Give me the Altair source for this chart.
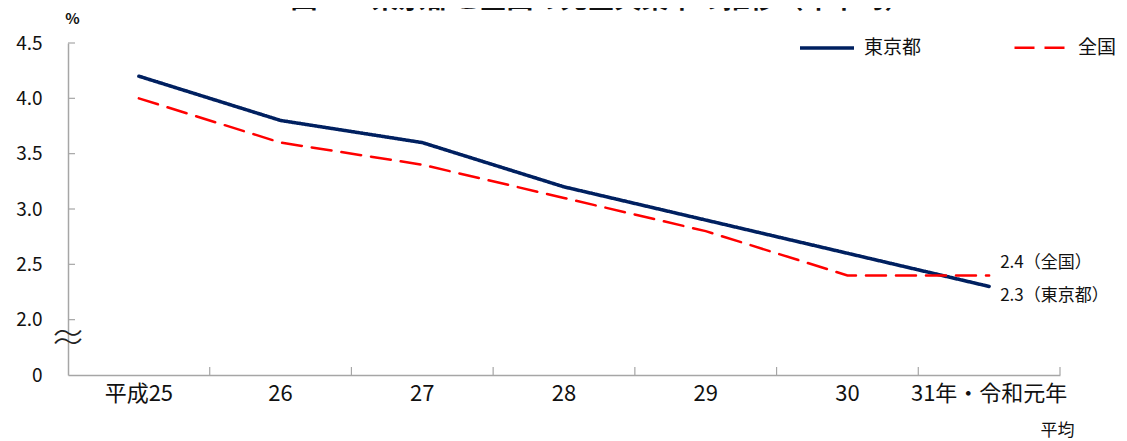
import altair as alt
import pandas as pd

years = ["平成25", "26", "27", "28", "29", "30", "31年・令和元年"]
tokyo = [4.2, 3.8, 3.6, 3.2, 2.9, 2.6, 2.3]
national = [4.0, 3.6, 3.4, 3.1, 2.8, 2.4, 2.4]
series_names = ["東京都", "全国"]
y_ticks = [2.0, 2.5, 3.0, 3.5, 4.0, 4.5]
title_text = "図２　東京都と全国の完全失業率の推移（年平均）"

FONT = "Noto Sans CJK JP"
AX = "#a6a6a6"
W, H = 992, 332

rows = []
for i, y in enumerate(years):
    rows.append({"year": y, "series": "東京都", "value": tokyo[i], "idx": i})
    rows.append({"year": y, "series": "全国", "value": national[i], "idx": i})
df = pd.DataFrame(rows)

xscale = alt.Scale(domain=years, paddingInner=0, paddingOuter=0)
yscale = alt.Scale(domain=[1.5, 4.5], nice=False, zero=False)

x_enc = alt.X("year:N", scale=xscale, sort=years,
              axis=alt.Axis(title="平均", labelAngle=0, labelFontSize=22, labelFont=FONT,
                            labelAlign="center", bandPosition=0.5,
                            labelColor="#111", labelPadding=18, ticks=False, tickSize=0,
                            domainColor=AX, domainWidth=1.5, labelOverlap=False,
                            titleFont=FONT, titleFontSize=17, titleFontWeight="normal",
                            titleX=989, titleY=55, titleAlign="center",
                            titleBaseline="middle", titleColor="#111"))
y_enc = alt.Y("value:Q", scale=yscale,
              axis=alt.Axis(values=[1.5] + y_ticks, title="%", titleAngle=0,
                            titleX=4, titleY=-25, titleAlign="center", titleBaseline="middle",
                            titleFont=FONT, titleFontSize=15, titleFontWeight="bold",
                            titleColor="#111",
                            labelExpr="datum.value < 1.9 ? '0' : format(datum.value, '.1f')",
                            labelFontSize=19, labelFont=FONT, labelColor="#111",
                            labelPadding=26, ticks=False, tickSize=0, grid=False,
                            domainColor=AX, domainWidth=1.5))

leg = alt.Legend(title=None, orient="none", direction="horizontal",
                 legendX=730, legendY=-24, symbolType="stroke",
                 symbolSize=2916, labelFontSize=19, labelFont=FONT,
                 labelColor="#111", labelOffset=8, columnPadding=87,
                 padding=0, symbolStrokeWidth=3)

lines = alt.Chart(df).mark_line(strokeCap="round").encode(
    x=x_enc,
    y=y_enc,
    color=alt.Color("series:N", scale=alt.Scale(domain=series_names, range=["#002060", "#ff0000"]),
                    legend=leg),
    strokeDash=alt.StrokeDash("series:N", scale=alt.Scale(domain=series_names, range=[[1, 0], [20, 10]]),
                              legend=leg),
    strokeWidth=alt.StrokeWidth("series:N", scale=alt.Scale(domain=series_names, range=[3.5, 2.5]),
                                legend=None),
    order="idx:Q",
)

ytick_df = pd.DataFrame({"value": y_ticks})
yticks = alt.Chart(ytick_df).mark_rule(color=AX, strokeWidth=1.2).encode(
    y=alt.Y("value:Q", scale=yscale),
    x=alt.value(0), x2=alt.value(7),
)

xtick_df = pd.DataFrame({"year": years})
xticks = alt.Chart(xtick_df).mark_rule(color=AX, strokeWidth=1.2).encode(
    x=alt.X("year:N", scale=xscale, sort=years, bandPosition=1),
    y=alt.value(H - 8), y2=alt.value(H),
)

last = years[-1]
ann_nat = alt.Chart(df).transform_filter(
    (alt.datum.year == last) & (alt.datum.series == "全国")
).transform_calculate(
    label="format(datum.value, '.1f') + '（' + datum.series + '）'"
).mark_text(align="left", baseline="middle", dx=11, dy=-12, fontSize=17, font=FONT, color="#111").encode(
    x=alt.X("year:N", scale=xscale, sort=years), y=alt.Y("value:Q", scale=yscale), text="label:N"
)
ann_tok = alt.Chart(df).transform_filter(
    (alt.datum.year == last) & (alt.datum.series == "東京都")
).transform_calculate(
    label="format(datum.value, '.1f') + '（' + datum.series + '）'"
).mark_text(align="left", baseline="middle", dx=11, dy=10, fontSize=17, font=FONT, color="#111").encode(
    x=alt.X("year:N", scale=xscale, sort=years), y=alt.Y("value:Q", scale=yscale), text="label:N"
)

brk = alt.Chart(pd.DataFrame({"t": ["≈"]})).mark_text(
    fontSize=36, font=FONT, fontWeight=300, color="#222", baseline="middle", align="center"
).encode(x=alt.value(0), y=alt.value(297), text="t:N")

title = alt.Chart(pd.DataFrame({"t": [title_text]})).mark_text(
    fontSize=27, font=FONT, fontWeight="bold", color="#111", baseline="bottom", align="center"
).encode(x=alt.value(533), y=alt.value(-29), text="t:N")

chart = alt.layer(yticks, xticks, lines, ann_nat, ann_tok, brk, title).properties(
    width=W, height=H,
    autosize=alt.AutoSizeParams(type="none"),
    padding={"left": 60, "top": 35, "right": 59, "bottom": 66},
).configure_view(stroke=None).resolve_scale(x="shared", y="shared")

chart.save("out.html", embed_options={"renderer": "svg", "actions": False})
